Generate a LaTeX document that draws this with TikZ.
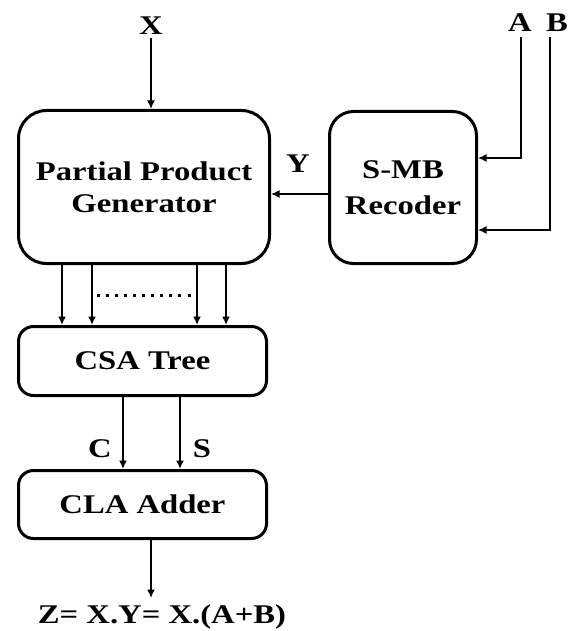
\documentclass[tikz,border=0pt]{standalone}
\usepackage{fontspec}
\setmainfont{Liberation Serif}[FakeStretch=1.21]
\usetikzlibrary{arrows.meta}
\begin{document}
\begin{tikzpicture}[x=1pt,y=-1pt,
  blk/.style={draw,line width=3pt,rounded corners=#1,inner sep=0pt,align=center,
    font=\bfseries\fontsize{27}{32.4}\selectfont},
  lbl/.style={inner sep=0pt,anchor=base,font=\bfseries\fontsize{27}{32.4}\selectfont},
  arr/.style={line width=1.6pt,-{Latex[length=8.5pt,width=8pt]}}]
\useasboundingbox (0,0) rectangle (575,631);
% blocks
\node[blk=28pt,minimum width=251pt,minimum height=153pt] (ppg) at (144,187) {Partial Product\\Generator};
\node[blk=24pt,minimum width=147pt,minimum height=152pt] (rec) at (403,187.5) {S-MB\\[4pt]Recoder};
\node[blk=15pt,minimum width=248pt,minimum height=69pt] (csa) at (142.5,361) {CSA Tree};
\node[blk=15pt,minimum width=248pt,minimum height=68pt] (cla) at (142.5,504.5) {CLA Adder};
% labels
\node[lbl] (X) at (151,35) {X};
\node[lbl] (A) at (520,32) {A};
\node[lbl] (B) at (557,32) {B};
\node[lbl] (Y) at (298,172) {Y};
\node[lbl] (C) at (100,457) {C};
\node[lbl] (S) at (202,457) {S};
\node[lbl] (Z) at (162,623) {Z= X.Y= X.(A+B)};
% connectors
\coordinate (x0) at (151,38);
\coordinate (a0) at (521,37);
\coordinate (b0) at (550,37);
\draw[arr] (x0) -- (x0 |- ppg.north);
\draw[arr] (a0) |- (rec.east |- 0,158);
\draw[arr] (b0) |- (rec.east |- 0,230);
\draw[arr] (rec.west |- 0,194) -- (ppg.east |- 0,194);
\foreach \xx in {62,92,197,226}
  \draw[arr] (ppg.south -| \xx,0) -- (csa.north -| \xx,0);
\coordinate (d1) at (96.5,295);
\coordinate (d2) at (190.5,295);
\draw[line width=3pt,dash pattern=on 3pt off 6.1pt] (d1) -- (d2);
\draw[arr] (csa.south -| 123,0) -- (cla.north -| 123,0);
\draw[arr] (csa.south -| 180,0) -- (cla.north -| 180,0);
\coordinate (zt) at (151,598);
\draw[arr] (cla.south -| 151,0) -- (zt);
\end{tikzpicture}
\end{document}
